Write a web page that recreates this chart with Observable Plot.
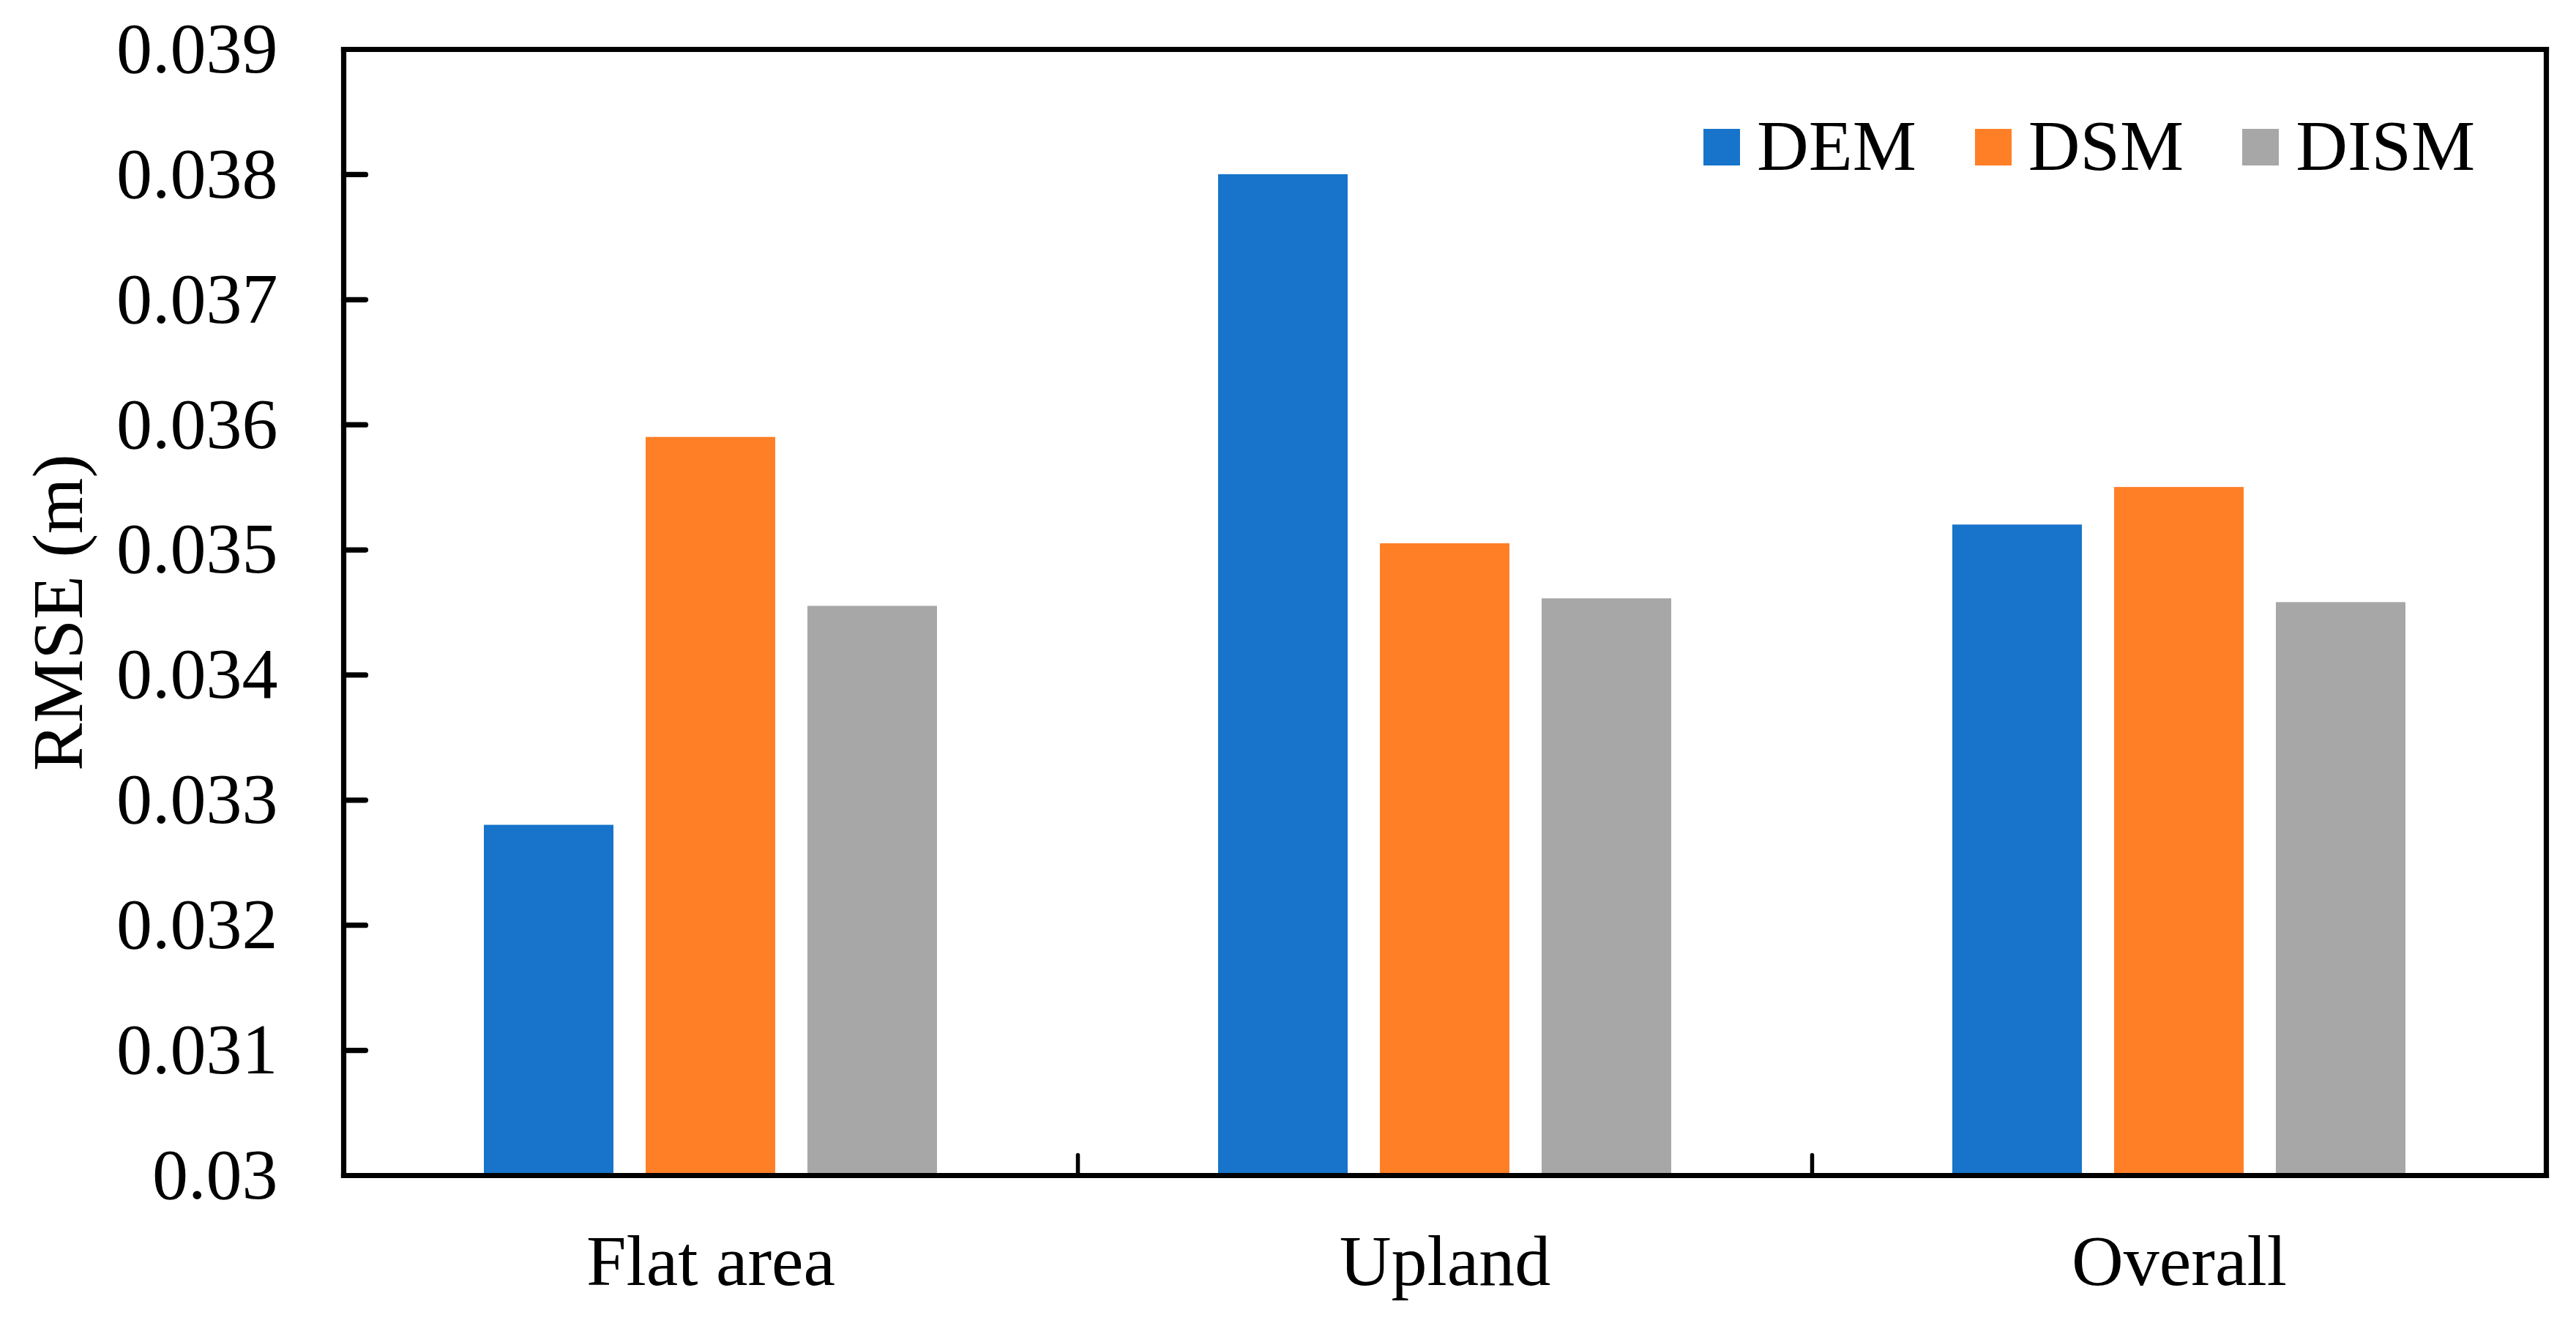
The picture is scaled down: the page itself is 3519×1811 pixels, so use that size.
<!DOCTYPE html>
<html>
<head>
<meta charset="utf-8">
<script src="https://cdn.jsdelivr.net/npm/d3@7"></script>
<script src="https://cdn.jsdelivr.net/npm/@observablehq/plot@0.6"></script>
<style>
  html, body { margin: 0; padding: 0; background: white; }
  #wrap { position: relative; width: 3519px; height: 1811px; }
  #legend { position: absolute; left: 2327px; top: 150px; display: flex; font-family: "Liberation Serif", "Times New Roman", serif; font-size: 98px; line-height: 1; color: black; }
  #legend .item { display: flex; align-items: flex-start; margin-right: 80px; }
  #legend .sw { width: 50px; height: 50px; margin-top: 26px; margin-right: 23px; }
</style>
</head>
<body>
<div id="wrap"><div id="legend"></div></div>
<script>
const categories = ["Flat area", "Upland", "Overall"];
const series = ["DEM", "DSM", "DISM"];
const colors = ["#1874CA", "#FF7F27", "#A7A7A7"];
const DEM = [0.0328, 0.0380, 0.0352];
const DSM = [0.0359, 0.03505, 0.0355];
const DISM = [0.03455, 0.03461, 0.03458];
const yTicks = [0.03, 0.031, 0.032, 0.033, 0.034, 0.035, 0.036, 0.037, 0.038, 0.039];
const yLabel = "RMSE (m)";

const values = {DEM, DSM, DISM};
const data = [];
categories.forEach((c, i) => series.forEach(s => data.push({category: c, series: s, value: values[s][i]})));
const boundaries = categories.slice(1).map(c => ({category: c}));
const yTickData = yTicks.map(v => ({category: categories[0], v}));

const lw = 7.2;
const tickLine = {draw(ctx, l) { ctx.moveTo(0, 0); ctx.lineTo(0, -l); }};

const chart = Plot.plot({
  width: 3519,
  height: 1811,
  marginLeft: 469,
  marginRight: 41,
  marginTop: 67,
  marginBottom: 206,
  style: {fontFamily: "Liberation Serif, Times New Roman, serif", fontSize: "98px", color: "black", background: "white"},
  fx: {domain: categories, padding: 0, label: null},
  x: {domain: series, paddingInner: 0.2, paddingOuter: 0.869, axis: null},
  y: {domain: [0.03, 0.039]},
  color: {domain: series, range: colors},
  marks: [
    Plot.barY(data, {fx: "category", x: "series", y1: 0.03, y2: "value", fill: "series"}),
    Plot.frame({anchor: "top", stroke: "black", strokeWidth: lw, strokeLinecap: "square"}),
    Plot.frame({anchor: "bottom", stroke: "black", strokeWidth: lw, strokeLinecap: "square"}),
    Plot.frame({anchor: "left", facetAnchor: "left", stroke: "black", strokeWidth: lw, strokeLinecap: "square"}),
    Plot.frame({anchor: "right", facetAnchor: "right", stroke: "black", strokeWidth: lw, strokeLinecap: "square"}),
    Plot.vector(boundaries, {fx: "category", frameAnchor: "bottom-left", length: 28, rotate: 0, anchor: "start", shape: tickLine, stroke: "black", strokeWidth: 5.5}),
    Plot.vector(yTickData, {fx: "category", y: "v", frameAnchor: "left", length: 30, rotate: 90, anchor: "start", shape: tickLine, stroke: "black", strokeWidth: lw}),
    Plot.axisY(yTicks, {tickSize: 0, tickPadding: 90, tickFormat: d3.format("~g"), fill: "black", label: yLabel, labelAnchor: "center", labelOffset: 427, labelArrow: "none"}),
    Plot.axisFx({anchor: "bottom", tickSize: 0, tickPadding: 80, fill: "black", label: null})
  ]
});
document.getElementById("wrap").prepend(chart);

const legend = d3.select("#legend");
series.forEach((s, i) => {
  const item = legend.append("div").attr("class", "item");
  item.append("div").attr("class", "sw").style("background", colors[i]);
  item.append("span").text(s);
});
legend.select(".item:last-child").style("margin-right", "0px");
</script>
</body>
</html>
